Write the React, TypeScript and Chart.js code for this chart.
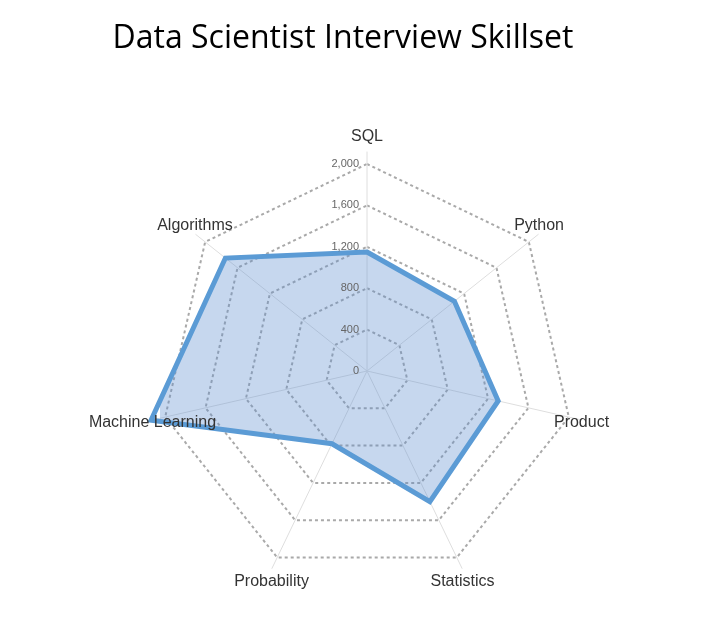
import { useEffect, useRef } from 'react';
import {
  Chart,
  RadarController,
  RadialLinearScale,
  PointElement,
  LineElement,
  Filler,
} from 'chart.js';

Chart.register(RadarController, RadialLinearScale, PointElement, LineElement, Filler);

const skills = ['SQL', 'Python', 'Product', 'Statistics', 'Probability', 'Machine Learning', 'Algorithms'];
const scores = [1150, 1080, 1300, 1400, 780, 2140, 1750];
const scaleMax = 2000;
const tickStep = 400;

// angle lines, tick labels and point labels are drawn by hand so they sit like the original
const radarDecor = {
  id: 'radarDecor',
  beforeDatasetsDraw(chart: any) {
    const scale = chart.scales.r;
    const ctx = chart.ctx;
    const outer = scale.drawingArea * 1.06;
    ctx.save();
    ctx.strokeStyle = '#dedede';
    ctx.lineWidth = 1;
    skills.forEach((_, i) => {
      const p = scale.getPointPosition(i, outer);
      ctx.beginPath();
      ctx.moveTo(scale.xCenter, scale.yCenter);
      ctx.lineTo(p.x, p.y);
      ctx.stroke();
    });
    ctx.restore();
  },
  afterDatasetsDraw(chart: any) {
    const scale = chart.scales.r;
    const ctx = chart.ctx;
    ctx.save();
    ctx.font = '11px "Liberation Sans", Arial, sans-serif';
    ctx.fillStyle = '#666';
    ctx.textAlign = 'right';
    ctx.textBaseline = 'middle';
    scale.ticks.forEach((t: any) => {
      const d = scale.getDistanceFromCenterForValue(t.value);
      ctx.fillText(t.value.toLocaleString('en-US'), scale.xCenter - 8, scale.yCenter - d);
    });

    ctx.font = '16px "Liberation Sans", Arial, sans-serif';
    ctx.fillStyle = '#333';
    ctx.textAlign = 'center';
    skills.forEach((label, i) => {
      const px = scale.getPointPosition(i, scale.drawingArea * 1.063);
      const py = scale.getPointPosition(i, scale.drawingArea * 1.13);
      ctx.fillText(label, px.x, py.y);
    });
    ctx.restore();
  },
};

export default function App() {
  const chartRef = useRef<HTMLCanvasElement>(null);

  useEffect(() => {
    if (!chartRef.current) return;

    const chart = new Chart(chartRef.current, {
      type: 'radar',
      data: {
        labels: skills,
        datasets: [{
          label: 'Skillset',
          data: scores,
          borderColor: 'rgb(91, 155, 213)',
          backgroundColor: 'rgba(91, 140, 205, 0.35)',
          borderWidth: 5,
          pointRadius: 0,
          fill: true,
        }],
      },
      options: {
        animation: false,
        responsive: true,
        maintainAspectRatio: false,
        layout: {
          padding: { left: 152, right: 136, top: 156, bottom: 50 },
        },
        plugins: {
          legend: { display: false },
          tooltip: { enabled: false },
        },
        scales: {
          r: {
            min: 0,
            max: scaleMax,
            ticks: { display: false, stepSize: tickStep },
            pointLabels: { display: false },
            angleLines: { display: false },
            grid: {
              color: 'rgba(140, 140, 140, 0.75)',
              lineWidth: 2,
            },
            border: { dash: [3, 3] },
          },
        },
      },
      plugins: [radarDecor],
    });

    return () => chart.destroy();
  }, []);

  return (
    <div style={{ position: 'relative', width: 702, height: 620 }}>
      <div
        style={{
          position: 'absolute',
          left: 0,
          top: 6,
          width: 670,
          textAlign: 'center',
          fontFamily: '"Open Sans", sans-serif',
          fontSize: 32,
          color: '#000',
          whiteSpace: 'nowrap',
        }}
      >
        Data Scientist Interview Skillset
      </div>
      <canvas ref={chartRef} />
    </div>
  );
}
